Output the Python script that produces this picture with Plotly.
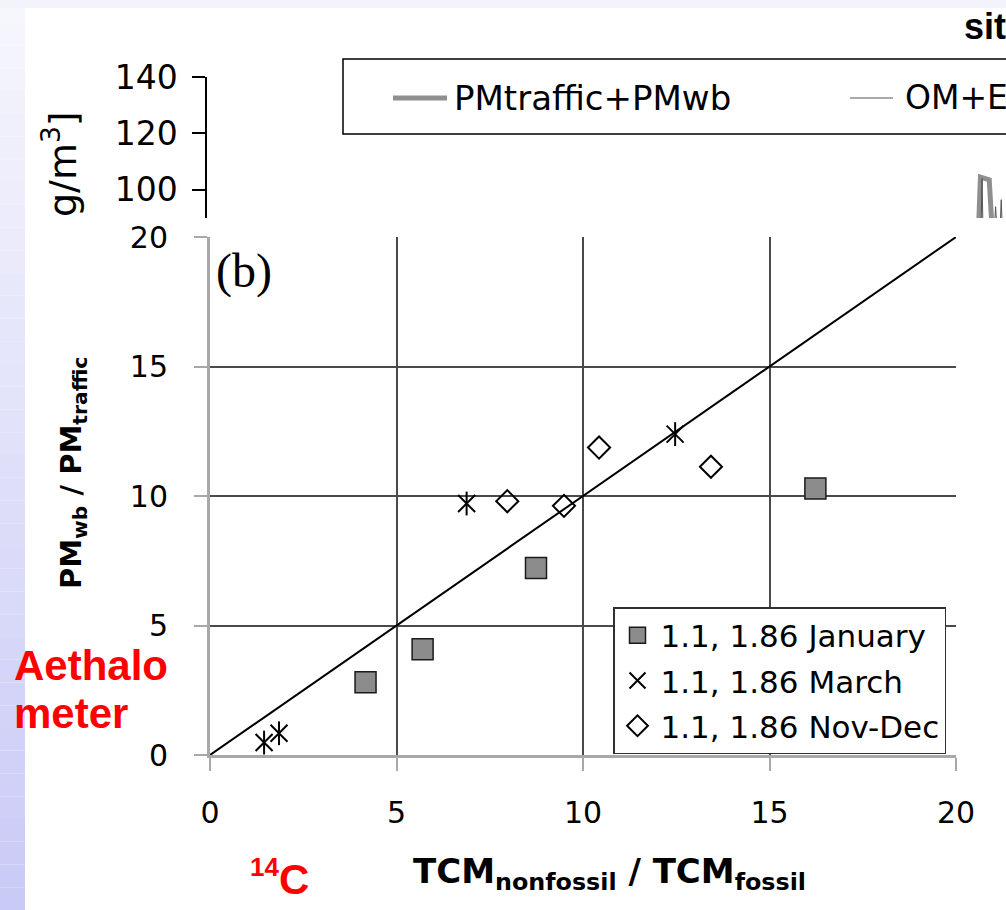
import plotly.graph_objects as go

W, H = 1006, 910

# ---------------- data ----------------
jan_x = [4.17, 5.70, 8.74, 16.23]
jan_y = [2.81, 4.08, 7.22, 10.29]
mar_x = [1.45, 1.85, 6.88, 12.47]
mar_y = [0.48, 0.84, 9.71, 12.39]
nov_x = [7.97, 9.49, 10.43, 13.43]
nov_y = [9.80, 9.62, 11.87, 11.13]
one_to_one = [0, 20]
axis_ticks = [0, 5, 10, 15, 20]

# partial upper chart (cropped in the slide)
top_ticks = [100, 120, 140]
top_pm_x = [96.6, 96.8, 97.9, 98.2]
top_pm_y = [89, 104.5, 103.5, 89]
top_om_x = [96.9, 97.0, 97.1, 98.6, 98.7, 98.8, 99.3, 99.4, 99.5]
top_om_y = [89, 104, 89, 89, 94, 89, 89, 96.5, 89]


def px(x):
    return x / W


def py(y):
    return (H - y) / H


SANS = "DejaVu Sans, Verdana, sans-serif"
ARIAL = "Liberation Sans, Arial, sans-serif"

fig = go.Figure()

# 1:1 line
fig.add_trace(go.Scatter(x=one_to_one, y=one_to_one, mode="lines",
                         line=dict(color="black", width=2), showlegend=False,
                         hoverinfo="skip"))
fig.add_trace(go.Scatter(x=jan_x, y=jan_y, mode="markers", name="1.1, 1.86 January",
                         legendgroup="jan",
                         marker=dict(symbol="square", size=21, color="#8c8c8c",
                                     line=dict(color="#1a1a1a", width=1.5))))
fig.add_trace(go.Scatter(x=mar_x, y=mar_y, mode="markers", name="1.1, 1.86 March",
                         legendgroup="mar",
                         marker=dict(symbol="x-thin-open", size=17, color="black",
                                     line=dict(color="black", width=2))))
fig.add_trace(go.Scatter(x=mar_x, y=mar_y, mode="markers", showlegend=False,
                         legendgroup="mar",
                         marker=dict(symbol="line-ns-open", size=17, color="black",
                                     line=dict(color="black", width=2))))
fig.add_trace(go.Scatter(x=nov_x, y=nov_y, mode="markers", name="1.1, 1.86 Nov-Dec",
                         legendgroup="nov",
                         marker=dict(symbol="diamond-open", size=17, color="black",
                                     line=dict(color="black", width=2))))

# upper cropped chart traces
fig.add_trace(go.Scatter(x=top_pm_x, y=top_pm_y, mode="lines", xaxis="x2", yaxis="y2",
                         line=dict(color="#8f8f8f", width=5), showlegend=False))
fig.add_trace(go.Scatter(x=top_om_x, y=top_om_y, mode="lines", xaxis="x2", yaxis="y2",
                         line=dict(color="#555555", width=1), showlegend=False))

shapes = []
# lavender slide frame: left gradient strip and top strip
n = 40
for i in range(n):
    t = i / (n - 1)
    r = round(246 - t * 44)
    b = round(253 - t * 6)
    shapes.append(dict(type="rect", xref="paper", yref="paper",
                       x0=0, x1=px(25), y0=1 - (i + 1) / n, y1=1 - i / n,
                       fillcolor=f"rgb({r},{r},{b})", line=dict(width=0), layer="below"))
shapes.append(dict(type="rect", xref="paper", yref="paper", x0=0, x1=1,
                   y0=py(8), y1=1, fillcolor="rgb(243,243,252)", line=dict(width=0),
                   layer="below"))
# upper chart legend box and samples
shapes.append(dict(type="rect", xref="paper", yref="paper", x0=px(343), x1=px(1030),
                   y0=py(134), y1=py(59), line=dict(color="black", width=1.5)))
shapes.append(dict(type="line", xref="paper", yref="paper", x0=px(393), x1=px(447),
                   y0=py(98), y1=py(98), line=dict(color="#8f8f8f", width=5)))
shapes.append(dict(type="line", xref="paper", yref="paper", x0=px(850), x1=px(893),
                   y0=py(98), y1=py(98), line=dict(color="#555555", width=1)))

annotations = [
    dict(text="(b)", x=px(214), y=py(271), xref="paper", yref="paper",
         xanchor="left", yanchor="middle", showarrow=False,
         font=dict(family="Liberation Serif, Times New Roman, serif", size=48, color="black")),
    dict(text="PM<sub>wb</sub> / PM<sub>traffic</sub>", x=px(52), y=py(473),
         xref="paper", yref="paper", textangle=-90, showarrow=False,
         font=dict(family=SANS, size=29, color="black", weight="bold")),
    dict(text="TCM<sub>nonfossil</sub> / TCM<sub>fossil</sub>", x=px(609), y=py(898),
         xref="paper", yref="paper", showarrow=False,
         font=dict(family=SANS, size=34, color="black", weight="bold")),
    dict(text="Aethalo", x=px(12), y=py(665), xref="paper", yref="paper",
         xanchor="left", yanchor="middle", showarrow=False,
         font=dict(family=ARIAL, size=42, color="#ff0000", weight="bold")),
    dict(text="meter", x=px(12), y=py(713), xref="paper", yref="paper",
         xanchor="left", yanchor="middle", showarrow=False,
         font=dict(family=ARIAL, size=42, color="#ff0000", weight="bold")),
    dict(text="<sup><span style='font-size:26px'>14</span></sup>C", x=px(248), y=py(877),
         xref="paper", yref="paper", xanchor="left", yanchor="middle", showarrow=False,
         font=dict(family=ARIAL, size=42, color="#ff0000", weight="bold")),
    # upper cropped chart texts
    dict(text="PMtraffic+PMwb", x=px(452), y=py(98), xref="paper", yref="paper",
         xanchor="left", yanchor="middle", showarrow=False,
         font=dict(family=SANS, size=34, color="black")),
    dict(text="OM+E", x=px(903), y=py(98), xref="paper", yref="paper",
         xanchor="left", yanchor="middle", showarrow=False,
         font=dict(family=SANS, size=33, color="black")),
    dict(text="sit", x=px(962), y=py(26), xref="paper", yref="paper",
         xanchor="left", yanchor="middle", showarrow=False,
         font=dict(family=ARIAL, size=36, color="black", weight="bold")),
    dict(text="g/m<sup>3</sup>]", x=px(60), y=py(219), xref="paper", yref="paper",
         xanchor="center", yanchor="bottom", textangle=-90, showarrow=False,
         font=dict(family=SANS, size=38, color="black")),
]

fig.update_layout(
    width=W, height=H,
    margin=dict(l=0, r=0, t=0, b=0, autoexpand=False),
    paper_bgcolor="white", plot_bgcolor="rgba(0,0,0,0)",
    showlegend=True,
    shapes=shapes,
    annotations=annotations,
    xaxis=dict(domain=[px(210), px(956)], range=[0, 20], tickvals=axis_ticks,
               showgrid=True, gridcolor="#4a4a4a", gridwidth=1.5,
               showline=True, linecolor="#a8a8a8", linewidth=3,
               ticks="outside", ticklen=13, tickcolor="#a8a8a8", tickwidth=2,
               zeroline=False, ticklabelstandoff=16, automargin=False,
               tickfont=dict(family=SANS, size=30, color="black"), anchor="y"),
    yaxis=dict(domain=[py(755), py(237)], range=[0, 20], tickvals=axis_ticks,
               showgrid=True, gridcolor="#4a4a4a", gridwidth=1.5,
               showline=True, linecolor="#a8a8a8", linewidth=3,
               ticks="outside", ticklen=13, tickcolor="#a8a8a8", tickwidth=2,
               zeroline=False, ticklabelstandoff=20, automargin=False,
               tickfont=dict(family=SANS, size=30, color="black"), anchor="x"),
    xaxis2=dict(domain=[px(207), 1.0], range=[0, 100], visible=False, anchor="y2",
                automargin=False),
    yaxis2=dict(domain=[py(218), py(77)], range=[90, 140], tickvals=top_ticks,
                showgrid=False, zeroline=False, showline=True, linecolor="black",
                linewidth=1.5, ticks="outside", ticklen=13, tickcolor="black",
                tickwidth=1.5, ticklabelstandoff=8, automargin=False,
                tickfont=dict(family=SANS, size=33, color="black"), anchor="x2"),
    legend=dict(x=px(613), y=py(607), xanchor="left", yanchor="top",
                bgcolor="white", bordercolor="#303030", borderwidth=1.5,
                font=dict(family=SANS, size=31, color="black"),
                itemwidth=36, tracegroupgap=2, traceorder="grouped"),
)

fig.write_html("out.html")
